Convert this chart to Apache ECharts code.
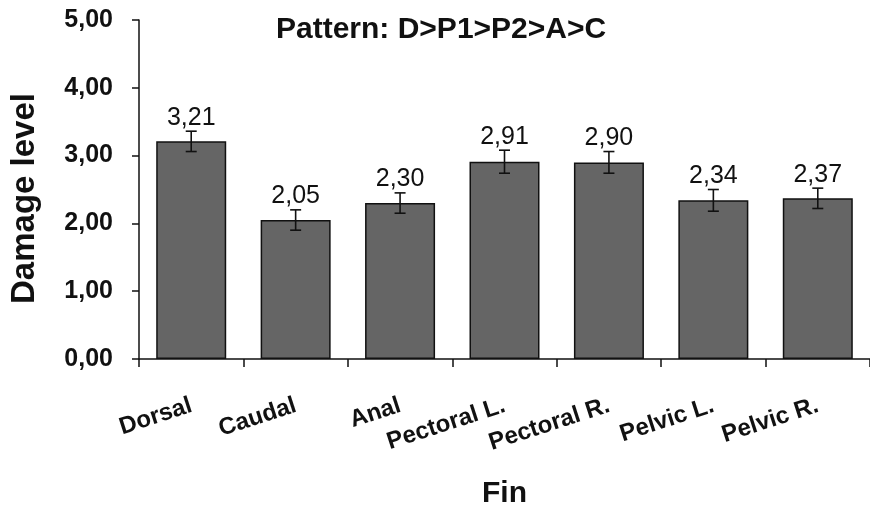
<!DOCTYPE html>
<html>
<head>
<meta charset="utf-8">
<script src="https://cdn.jsdelivr.net/npm/echarts@6/dist/echarts.min.js"></script>
<style>
html,body{margin:0;padding:0;background:#fff;}
#chart{width:870px;height:514px;}
</style>
</head>
<body>
<div id="chart"></div>
<script>
var categories = ['Dorsal', 'Caudal', 'Anal', 'Pectoral L.', 'Pectoral R.', 'Pelvic L.', 'Pelvic R.'];
var values = [3.21, 2.05, 2.30, 2.91, 2.90, 2.34, 2.37];
var errors = [0.15, 0.15, 0.15, 0.17, 0.16, 0.16, 0.15];
var titleText = 'Pattern: D>P1>P2>A>C';
var yName = 'Damage level';
var xName = 'Fin';

var FONT = '"Liberation Sans", Arial, Helvetica, sans-serif';
var chart = echarts.init(document.getElementById('chart'));

function fmt(v) { return v.toFixed(2).replace('.', ','); }

var errData = values.map(function (v, i) { return [i, v, errors[i]]; });

chart.setOption({
  animation: false,
  backgroundColor: '#ffffff',
  title: {
    text: titleText,
    left: 271,
    top: 10,
    textStyle: { fontFamily: FONT, fontSize: 30, fontWeight: 'bold', color: '#111' }
  },
  grid: { left: 137, right: -7, top: 20, bottom: 150, containLabel: false },
  xAxis: {
    type: 'category',
    data: categories,
    name: xName,
    nameLocation: 'middle',
    nameGap: 120,
    nameTextStyle: { fontFamily: FONT, fontSize: 30, fontWeight: 'bold', color: '#111', verticalAlign: 'top' },
    axisLine: { lineStyle: { color: '#111', width: 1.5 } },
    axisTick: { show: true, alignWithLabel: false, length: 8, lineStyle: { color: '#111', width: 1.5 } },
    axisLabel: {
      rotate: 18,
      margin: 46,
      interval: 0,
      fontFamily: FONT, fontSize: 24, fontWeight: 'bold', color: '#111'
    },
    splitLine: { show: false }
  },
  yAxis: {
    type: 'value',
    min: 0, max: 5, interval: 1,
    name: yName,
    nameLocation: 'middle',
    nameGap: 98,
    nameTextStyle: { fontFamily: FONT, fontSize: 33, fontWeight: 'bold', color: '#111', padding: [0, 18, 0, 0] },
    axisLine: { show: true, lineStyle: { color: '#111', width: 1.5 } },
    axisTick: { show: true, length: 7, lineStyle: { color: '#111', width: 1.5 } },
    axisLabel: {
      margin: 26,
      fontFamily: FONT, fontSize: 25, fontWeight: 'bold', color: '#111',
      formatter: function (v) { return fmt(v); }
    },
    splitLine: { show: false }
  },
  series: [
    {
      type: 'bar',
      data: values,
      barWidth: 70,
      itemStyle: { color: '#656565', borderColor: '#111', borderWidth: 1.5 },
      z: 2
    },
    {
      type: 'custom',
      data: errData,
      z: 5,
      renderItem: function (params, api) {
        var i = api.value(0), v = api.value(1), e = api.value(2);
        var top = api.coord([i, v + e]);
        var bot = api.coord([i, v - e]);
        var x = top[0], hw = 5.5;
        var st = { stroke: '#111', lineWidth: 1.6 };
        return {
          type: 'group',
          children: [
            { type: 'line', shape: { x1: x, y1: top[1], x2: x, y2: bot[1] }, style: st },
            { type: 'line', shape: { x1: x - hw, y1: top[1], x2: x + hw, y2: top[1] }, style: st },
            { type: 'line', shape: { x1: x - hw, y1: bot[1], x2: x + hw, y2: bot[1] }, style: st },
            { type: 'text', x: x, y: top[1] - 1,
              style: { text: fmt(v), x: 0, y: 0, align: 'center', verticalAlign: 'bottom',
                       font: '25px ' + FONT, fill: '#111' } }
          ]
        };
      }
    }
  ]
});
</script>
</body>
</html>
